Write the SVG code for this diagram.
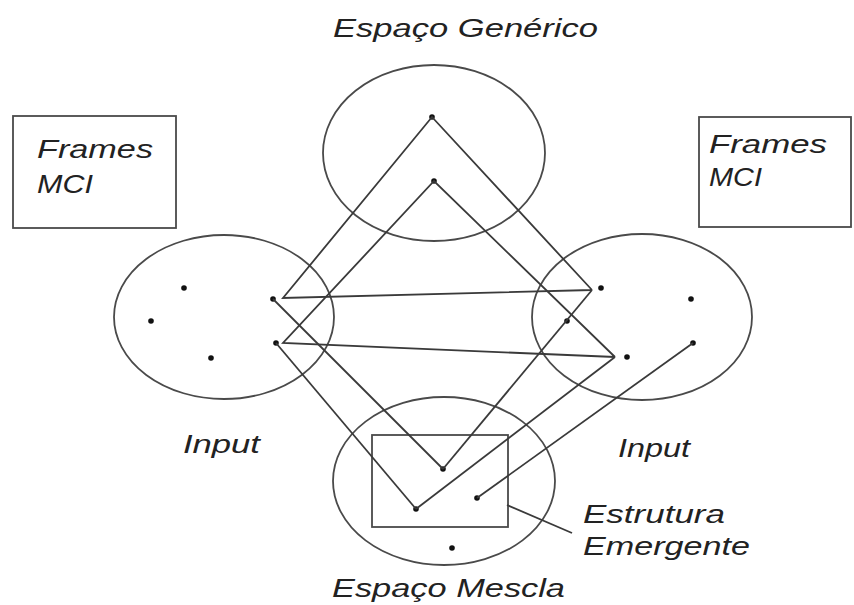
<svg xmlns="http://www.w3.org/2000/svg" width="854" height="605" viewBox="0 0 854 605">
<defs>
<style>
.sh{fill:none;stroke:#4a4a4a;stroke-width:1.8}
.ln{fill:none;stroke:#3a3a3a;stroke-width:1.8}
.dt{fill:#111}
.t{font-family:"Liberation Sans",Arial,sans-serif;font-style:italic;font-size:25px;fill:#222}
</style>
</defs>
<rect width="854" height="605" fill="#fff"/>
<g id="generic">
<ellipse class="sh" cx="434" cy="153" rx="111" ry="88"/>
<circle class="dt" cx="432" cy="117" r="2.8"/>
<circle class="dt" cx="434" cy="181" r="2.8"/>
<text class="t" x="333" y="37" textLength="265" lengthAdjust="spacingAndGlyphs">Espaço Genérico</text>
</g>
<g id="input-left">
<ellipse class="sh" cx="224" cy="317" rx="110" ry="82"/>
<circle class="dt" cx="184" cy="288" r="2.8"/>
<circle class="dt" cx="151" cy="321" r="2.8"/>
<circle class="dt" cx="211" cy="358" r="2.8"/>
<circle class="dt" cx="273" cy="299" r="2.8"/>
<circle class="dt" cx="276" cy="343" r="2.8"/>
<text class="t" x="183" y="453" textLength="77" lengthAdjust="spacingAndGlyphs">Input</text>
</g>
<g id="input-right">
<ellipse class="sh" cx="642" cy="317" rx="110" ry="83"/>
<circle class="dt" cx="601" cy="288" r="2.8"/>
<circle class="dt" cx="691" cy="299" r="2.8"/>
<circle class="dt" cx="693" cy="343" r="2.8"/>
<circle class="dt" cx="627" cy="357" r="2.8"/>
<circle class="dt" cx="567" cy="321" r="2.8"/>
<text class="t" x="618" y="457" textLength="72" lengthAdjust="spacingAndGlyphs">Input</text>
</g>
<g id="blend">
<ellipse class="sh" cx="444" cy="481" rx="111" ry="84"/>
<rect class="sh" x="372" y="435" width="136" height="92"/>
<circle class="dt" cx="443" cy="469" r="2.8"/>
<circle class="dt" cx="416" cy="509" r="2.8"/>
<circle class="dt" cx="477" cy="498" r="2.8"/>
<circle class="dt" cx="452" cy="548" r="2.8"/>
<text class="t" x="332" y="597" textLength="233" lengthAdjust="spacingAndGlyphs">Espaço Mescla</text>
</g>
<g id="frames-left">
<rect class="sh" x="13" y="116" width="163" height="112"/>
<text class="t" x="37" y="158" textLength="116" lengthAdjust="spacingAndGlyphs">Frames</text>
<text class="t" x="37" y="193" textLength="56" lengthAdjust="spacingAndGlyphs">MCI</text>
</g>
<g id="frames-right">
<rect class="sh" x="699" y="117" width="152" height="110"/>
<text class="t" x="709" y="153" textLength="118" lengthAdjust="spacingAndGlyphs">Frames</text>
<text class="t" x="709" y="186" textLength="53" lengthAdjust="spacingAndGlyphs">MCI</text>
</g>
<g id="emergent-label">
<text class="t" x="583" y="523" textLength="142" lengthAdjust="spacingAndGlyphs">Estrutura</text>
<text class="t" x="583" y="555" textLength="167" lengthAdjust="spacingAndGlyphs">Emergente</text>
</g>
<g id="connectors">
<polyline class="ln" points="592,290 432,117 283,298 592,290"/>
<polyline class="ln" points="615,357 434,181 283,343 615,357"/>
<line class="ln" x1="273" y1="299" x2="443" y2="469"/>
<line class="ln" x1="443" y1="469" x2="592" y2="290"/>
<line class="ln" x1="276" y1="343" x2="416" y2="509"/>
<line class="ln" x1="416" y1="509" x2="615" y2="357"/>
<line class="ln" x1="477" y1="498" x2="693" y2="343"/>
<line class="ln" x1="507" y1="505" x2="572" y2="533"/>
</g>
</svg>
